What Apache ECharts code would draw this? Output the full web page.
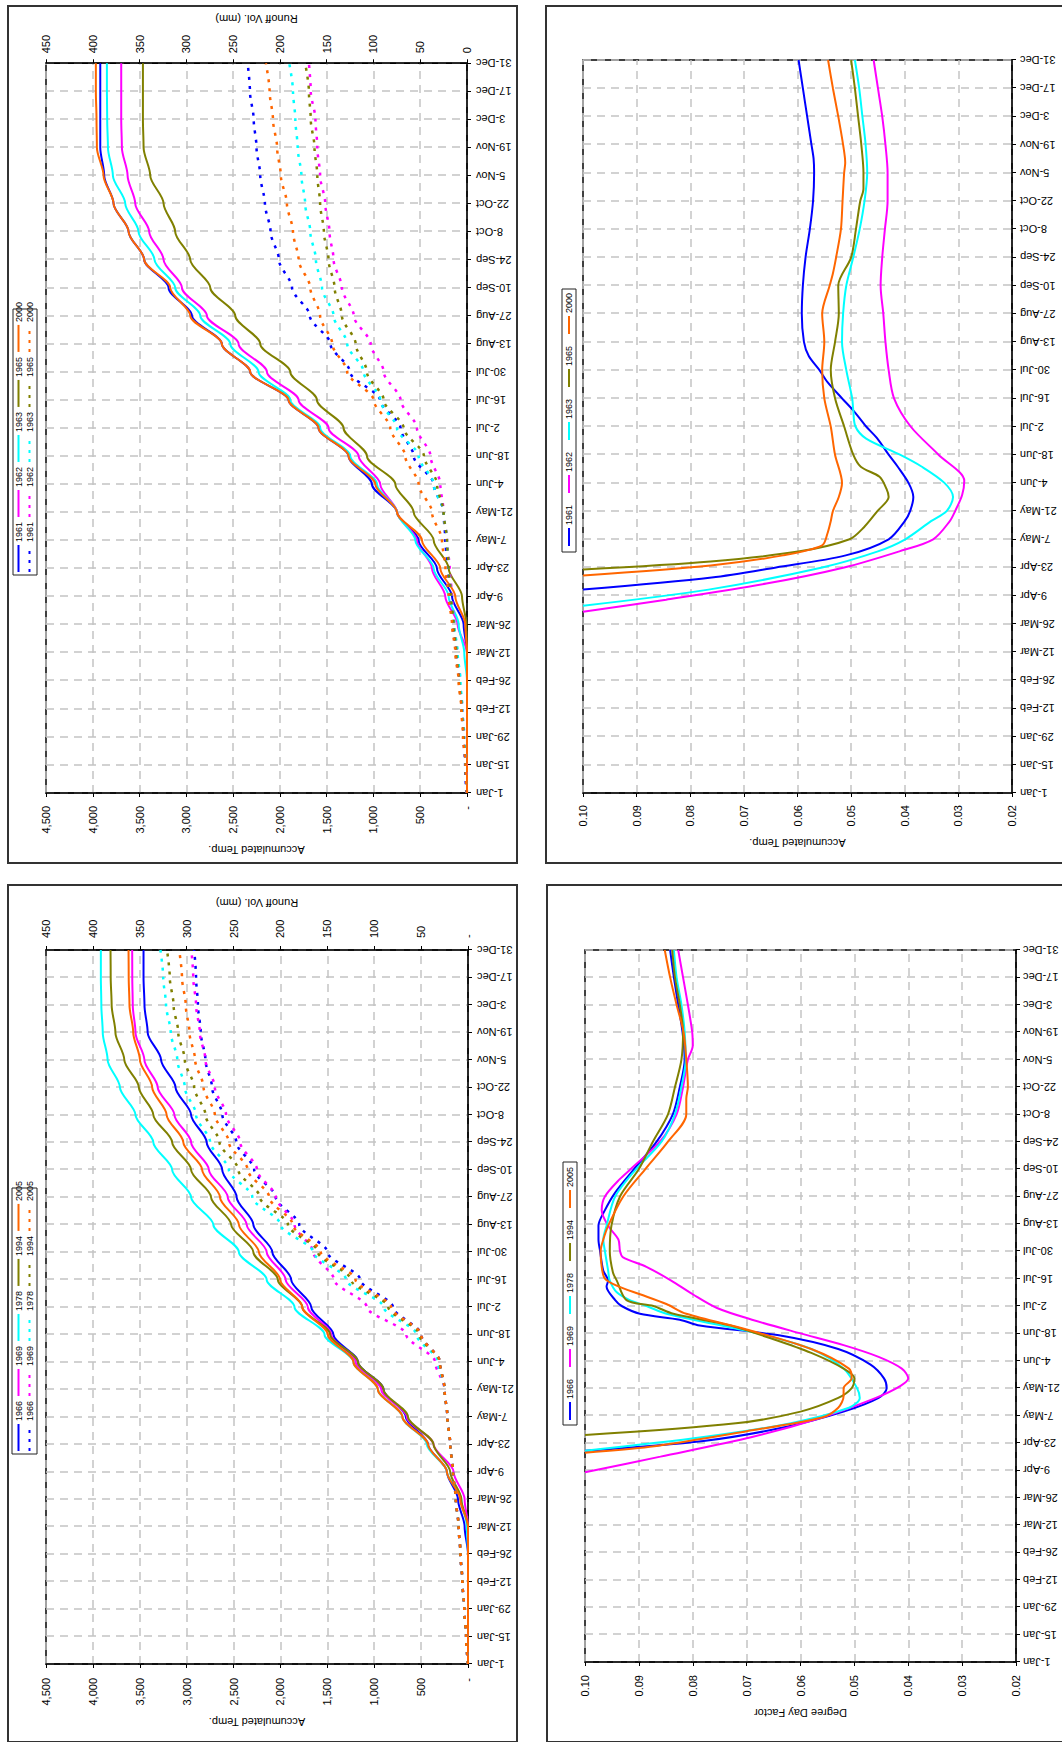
<!DOCTYPE html>
<html>
<head>
<meta charset="utf-8">
<title>Accumulated temperature, runoff and degree day factor</title>
<script src="https://cdn.jsdelivr.net/npm/echarts@6/dist/echarts.min.js"></script>
<style>
  html, body { margin: 0; padding: 0; background: #fff; }
  body { width: 1062px; height: 1742px; overflow: hidden; position: relative; }
  .panel { position: absolute; width: 859px; transform-origin: 0 0; transform: rotate(-90deg); }
</style>
</head>
<body>
<div id="accA" class="panel" style="left:7px; top:864px; height:511px;"></div>
<div id="ddfA" class="panel" style="left:545px; top:864px; height:530px;"></div>
<div id="accB" class="panel" style="left:7px; top:1743px; height:511px;"></div>
<div id="ddfB" class="panel" style="left:546px; top:1743px; height:530px;"></div>
<script>
// ---- day-of-year sample points (0 = 1 Jan, 364 = 31 Dec) ----
const DAYS = [0, 14, 28, 42, 56, 70, 84, 98, 112, 126, 140, 154, 168, 182, 196, 210, 224, 238, 252, 266, 280, 294, 308, 322, 336, 350, 364];

// ---- years and colours ----
const YEARS_A = ['1961', '1962', '1963', '1965', '2000'];
const YEARS_B = ['1966', '1969', '1978', '1994', '2005'];
const COLORS = ['#0000ff', '#ff00ff', '#00ffff', '#808000', '#ff6600'];

// ---- accumulated temperature (solid) 1961-2000 ----
const temp1961 = [0, 0, 0, 0, 0, 0, 36, 160, 321, 517, 748, 1016, 1265, 1586, 1907, 2317, 2620, 2940, 3190, 3450, 3617, 3778, 3878, 3920, 3920, 3920, 3920];
const temp1962 = [0, 0, 0, 0, 0, 0, 100, 232, 374, 535, 748, 927, 1158, 1479, 1800, 2138, 2441, 2780, 3047, 3243, 3397, 3546, 3628, 3689, 3696, 3696, 3696];
const temp1963 = [0, 0, 0, 0, 0, 29, 89, 196, 356, 552, 748, 962, 1247, 1568, 1889, 2228, 2530, 2851, 3119, 3340, 3511, 3653, 3785, 3838, 3846, 3849, 3849];
const temp1965 = [0, 0, 0, 0, 0, 0, 7, 53, 196, 356, 570, 766, 1069, 1319, 1604, 1889, 2210, 2477, 2744, 2958, 3119, 3243, 3386, 3457, 3464, 3464, 3464];
const temp2000 = [0, 0, 0, 0, 0, 0, 18, 125, 285, 481, 748, 980, 1265, 1586, 1907, 2317, 2620, 2958, 3172, 3450, 3617, 3778, 3885, 3956, 3960, 3967, 3967];

// ---- runoff volume (dotted, mm) 1961-2000 ----
const runoff1961 = [0.7, 2, 3.6, 5.3, 7.8, 11.4, 15, 17.8, 20.3, 23.2, 25, 35.6, 57, 71, 93, 125, 146, 168, 187, 201, 210, 216, 221, 225, 228, 232, 234.5];
const runoff1962 = [0, 1, 2.9, 5, 7.8, 10.7, 13.5, 16, 18.5, 21.4, 25, 28.5, 39, 53.5, 71, 89, 103, 121, 133.7, 142.6, 147, 151.5, 157, 160, 162, 167, 169];
const runoff1963 = [0, 1.4, 2.9, 5, 7, 10, 13.5, 17, 19.6, 21.4, 25, 35.6, 51.7, 74.8, 92.7, 110.5, 128, 142.6, 155, 161.5, 167.5, 173, 177, 181, 183.5, 186, 190];
const runoff1965 = [0, 1.4, 3.6, 5.7, 8.5, 11.4, 14.3, 17, 19.6, 21.4, 25, 32, 46, 67.7, 89, 107, 119, 133.7, 141.5, 148, 153, 157, 160, 163, 167, 169, 173];
const runoff2000 = [0, 1.4, 4.3, 6, 9, 12.5, 16, 19.6, 23, 26.7, 37.4, 51.7, 66, 82, 99.8, 128, 144, 157, 167.5, 180, 186, 192.5, 199, 203, 207.4, 211, 215];

// ---- accumulated temperature (solid) 1966-2005 ----
const temp1966 = [0, 0, 0, 0, 0, 36, 107, 225, 427, 664, 901, 1174, 1435, 1672, 1886, 2087, 2289, 2467, 2621, 2787, 2953, 3119, 3273, 3416, 3450, 3460, 3460];
const temp1969 = [0, 0, 0, 0, 0, 0, 36, 154, 368, 652, 925, 1198, 1459, 1708, 1945, 2147, 2360, 2562, 2763, 2953, 3131, 3309, 3451, 3546, 3575, 3580, 3581];
const temp1978 = [0, 0, 0, 0, 0, 12, 71, 225, 439, 700, 960, 1222, 1530, 1850, 2147, 2443, 2716, 2953, 3155, 3356, 3546, 3712, 3843, 3895, 3910, 3915, 3915];
const temp1994 = [0, 0, 0, 0, 0, 0, 71, 190, 368, 640, 901, 1174, 1470, 1767, 2028, 2289, 2526, 2740, 2953, 3155, 3356, 3510, 3665, 3760, 3800, 3810, 3812];
const temp2005 = [0, 0, 0, 0, 0, 0, 83, 225, 427, 700, 961, 1222, 1494, 1767, 2004, 2230, 2443, 2645, 2835, 3036, 3214, 3368, 3499, 3570, 3610, 3618, 3620];

// ---- runoff volume (dotted, mm) 1966-2005 ----
const runoff1966 = [0, 2, 4, 6, 8, 10, 13, 16, 19, 22, 25, 30, 50, 80, 115, 150, 180, 205, 228, 247, 262, 273, 280, 285, 288, 290, 292];
const runoff1969 = [0, 2, 4, 6, 8, 10, 13, 16, 19, 22, 25, 35, 66, 108, 143, 165, 185, 205, 225, 243, 258, 270, 280, 286, 290, 293, 295];
const runoff1978 = [0, 2, 4, 6, 8, 10, 13, 16, 19, 22, 25, 32, 55, 90, 130, 165, 200, 230, 255, 275, 290, 302, 310, 317, 322, 325, 328];
const runoff1994 = [0, 2, 4, 6, 8, 10, 13, 16, 19, 22, 25, 30, 52, 85, 125, 160, 192, 222, 245, 265, 280, 292, 302, 309, 314, 318, 321];
const runoff2005 = [0, 2, 4, 6, 8, 10, 13, 16, 19, 22, 25, 30, 50, 82, 120, 157, 187, 212, 235, 255, 270, 282, 291, 297, 301, 305, 308];

// ---- degree day factor 1961-2000 (day of year, factor) ----
const ddfDays1961 = [101, 107, 112, 118, 126, 135, 140, 147, 154, 162, 168, 176, 182, 190, 196, 204, 210, 217, 224, 238, 252, 266, 280, 294, 308, 315, 322, 336, 350, 364];
const ddf1961 = [0.100, 0.076, 0.064, 0.051, 0.043, 0.040, 0.039, 0.0384, 0.0393, 0.0413, 0.043, 0.0451, 0.0472, 0.0496, 0.0517, 0.0544, 0.0559, 0.0579, 0.0588, 0.0592, 0.0590, 0.0585, 0.0577, 0.0571, 0.0569, 0.0570, 0.0574, 0.0582, 0.0590, 0.0598];
const ddfDays1962 = [90, 96, 104, 112, 120, 126, 135, 140, 148, 155, 168, 182, 196, 210, 224, 238, 252, 266, 280, 294, 308, 322, 336, 350, 364];
const ddf1962 = [0.100, 0.0845, 0.0658, 0.0513, 0.041, 0.0347, 0.0316, 0.0306, 0.0293, 0.0289, 0.0337, 0.0389, 0.042, 0.043, 0.0436, 0.044, 0.0445, 0.0442, 0.0437, 0.0432, 0.0432, 0.0436, 0.0442, 0.045, 0.0458];
const ddfDays1963 = [93, 101, 112, 120, 126, 135, 140, 147, 154, 162, 168, 176, 182, 190, 196, 210, 224, 238, 252, 266, 280, 294, 308, 322, 336, 350, 364];
const ddf1963 = [0.100, 0.0766, 0.0554, 0.045, 0.0399, 0.0351, 0.0322, 0.031, 0.0326, 0.0368, 0.0409, 0.0472, 0.0492, 0.0496, 0.0498, 0.0509, 0.0517, 0.0515, 0.0509, 0.0496, 0.0484, 0.0475, 0.0470, 0.0473, 0.0479, 0.0485, 0.0493];
const ddfDays1965 = [111, 115, 120, 126, 132, 140, 147, 151, 157, 162, 168, 182, 196, 210, 224, 238, 252, 266, 280, 294, 300, 308, 322, 336, 350, 364];
const ddf1965 = [0.100, 0.0762, 0.0596, 0.0503, 0.0476, 0.0451, 0.043, 0.0434, 0.0447, 0.0482, 0.0496, 0.0513, 0.053, 0.0538, 0.053, 0.0523, 0.0524, 0.0500, 0.0491, 0.0483, 0.0477, 0.0477, 0.0481, 0.0487, 0.0493, 0.0500];
const ddfDays2000 = [108, 113, 118, 123, 129, 135, 140, 147, 154, 168, 182, 196, 210, 224, 238, 252, 258, 266, 280, 294, 308, 313, 322, 336, 350, 364];
const ddf2000 = [0.100, 0.0762, 0.0627, 0.0554, 0.0544, 0.0538, 0.0534, 0.0523, 0.0517, 0.053, 0.0538, 0.055, 0.0554, 0.055, 0.0554, 0.0540, 0.0534, 0.0528, 0.0519, 0.0516, 0.0513, 0.0511, 0.0515, 0.0524, 0.0534, 0.0543];

// ---- degree day factor 1966-2005 ----
const ddfDays1966 = [108, 113, 120, 128, 135, 140, 145, 152, 160, 167, 172, 175, 178, 182, 185, 192, 195, 200, 210, 216, 223, 231, 240, 252, 266, 280, 294, 308, 322, 336, 350, 364];
const ddf1966 = [0.100, 0.078, 0.063, 0.052, 0.0455, 0.044, 0.0445, 0.047, 0.053, 0.064, 0.0787, 0.0824, 0.0898, 0.0932, 0.0944, 0.096, 0.0957, 0.0966, 0.0972, 0.0975, 0.0975, 0.0963, 0.0944, 0.0909, 0.0867, 0.0837, 0.0824, 0.0815, 0.0819, 0.0827, 0.0835, 0.0842];
const ddfDays1969 = [97, 105, 115, 125, 135, 141, 145, 150, 156, 162, 168, 175, 181, 188, 195, 202, 207, 210, 216, 223, 231, 238, 247, 252, 266, 280, 294, 308, 315, 322, 336, 350, 364];
const ddf1969 = [0.100, 0.086, 0.069, 0.056, 0.046, 0.0415, 0.0400, 0.0412, 0.0455, 0.052, 0.060, 0.069, 0.0755, 0.080, 0.084, 0.0886, 0.093, 0.0935, 0.0938, 0.0957, 0.0969, 0.0963, 0.0935, 0.0915, 0.0861, 0.083, 0.0818, 0.0809, 0.0800, 0.0801, 0.0809, 0.0818, 0.0827];
const ddfDays1978 = [108, 115, 122, 130, 135, 140, 150, 160, 168, 175, 178, 182, 185, 189, 195, 200, 210, 216, 223, 238, 252, 266, 280, 294, 308, 322, 336, 350, 364];
const ddf1978 = [0.100, 0.078, 0.062, 0.051, 0.049, 0.0495, 0.052, 0.058, 0.068, 0.0799, 0.0849, 0.0886, 0.0917, 0.0941, 0.0954, 0.0957, 0.0963, 0.0966, 0.096, 0.0944, 0.0905, 0.0858, 0.0833, 0.0821, 0.0813, 0.0815, 0.0821, 0.083, 0.0835];
const ddfDays1994 = [116, 122, 128, 135, 140, 145, 150, 158, 165, 172, 178, 182, 185, 195, 199, 210, 223, 238, 252, 266, 280, 294, 308, 322, 336, 350, 364];
const ddf1994 = [0.100, 0.072, 0.060, 0.053, 0.0505, 0.050, 0.052, 0.058, 0.065, 0.073, 0.0836, 0.0873, 0.0923, 0.0941, 0.0948, 0.0954, 0.0951, 0.0935, 0.090, 0.0874, 0.0846, 0.0833, 0.0821, 0.0818, 0.0824, 0.0833, 0.0838];
const ddfDays2005 = [107, 110, 118, 125, 130, 136, 140, 145, 150, 160, 170, 178, 183, 188, 192, 196, 202, 210, 216, 223, 238, 252, 266, 280, 288, 294, 308, 322, 336, 350, 364];
const ddf2005 = [0.100, 0.088, 0.070, 0.056, 0.053, 0.052, 0.052, 0.0505, 0.051, 0.058, 0.070, 0.0812, 0.0849, 0.0898, 0.0938, 0.0963, 0.0969, 0.0971, 0.0966, 0.0957, 0.0929, 0.0888, 0.0846, 0.0812, 0.0812, 0.0809, 0.0812, 0.0817, 0.083, 0.0842, 0.0852];

// ---- shared formatting ----
const FONT = '"Liberation Sans", Arial, Helvetica, sans-serif';
const MONTHS = ['Jan', 'Feb', 'Mar', 'Apr', 'May', 'Jun', 'Jul', 'Aug', 'Sep', 'Oct', 'Nov', 'Dec'];
const GRID_LINE = { type: [8, 6], color: '#c4c4c4', width: 1.5 };
const W = 859;

function dayLabel(d) {
  const dt = new Date(Date.UTC(2001, 0, 1 + Math.round(d)));
  return dt.getUTCDate() + '-' + MONTHS[dt.getUTCMonth()];
}
function withThousands(v) {
  if (v === 0) return '-';
  return String(Math.round(v)).replace(/\B(?=(\d{3})+(?!\d))/g, ',');
}
function pairs(xs, ys) { return xs.map((x, i) => [x, ys[i]]); }

function dateAxis(margin) {
  return {
    type: 'value', min: 0, max: 364, interval: 14,
    axisLine: { show: true, onZero: false, lineStyle: { color: '#000', width: 1.5 } },
    axisTick: { show: true, length: 4, lineStyle: { color: '#000', width: 1 } },
    axisLabel: { rotate: 90, margin: margin, fontSize: 11, color: '#000', fontFamily: FONT, formatter: dayLabel },
    splitLine: { show: true, lineStyle: GRID_LINE }
  };
}

function frameGraphic(h, box) {
  return [
    { type: 'rect', silent: true, z: -10, shape: { x: 1, y: 1, width: W - 2, height: h - 2 },
      style: { fill: 'none', stroke: '#333', lineWidth: 2 } },
    { type: 'rect', silent: true, z: -5, shape: { x: box[0], y: box[1], width: box[2], height: box[3] },
      style: { fill: '#fff', stroke: '#222', lineWidth: 1 } }
  ];
}

// one legend row: plain line icons (no marker), text after the line
function legendRow(names, left, top, itemWidth, itemGap, strip) {
  const lg = {
    data: names, left: left, top: top, orient: 'horizontal', padding: 0,
    itemWidth: itemWidth, itemHeight: 8, itemGap: itemGap, selectedMode: false,
    itemStyle: { opacity: 0 },
    textStyle: { fontSize: 9, color: '#000', fontFamily: FONT, padding: [0, 0, 0, -2] }
  };
  if (strip) lg.formatter = n => n.split(' ')[0];
  return lg;
}

// Accumulated temperature (left axis) with runoff volume (right axis)
function accumOption(p) {
  const series = [];
  p.years.forEach((y, i) => {
    series.push({
      name: y, type: 'line', yAxisIndex: 0, data: pairs(DAYS, p.temp[i]),
      symbol: 'none', smooth: 0.3, smoothMonotone: 'x',
      lineStyle: { color: COLORS[i], width: 2 }, itemStyle: { color: COLORS[i] }
    });
  });
  p.years.forEach((y, i) => {
    series.push({
      name: y + ' runoff', type: 'line', yAxisIndex: 1, data: pairs(DAYS, p.runoff[i]),
      symbol: 'none', smooth: 0.3, smoothMonotone: 'x',
      lineStyle: { color: COLORS[i], width: 2.5, type: [3, 6] }, itemStyle: { color: COLORS[i] }
    });
  });
  return {
    animation: false,
    textStyle: { fontFamily: FONT },
    grid: { left: p.grid[0], right: p.grid[1], top: p.grid[2], bottom: p.grid[3],
            show: true, borderColor: '#000', borderWidth: 1.5, backgroundColor: 'transparent' },
    xAxis: dateAxis(p.dateMargin),
    yAxis: [
      { type: 'value', min: 0, max: 4500, interval: 500, position: 'left',
        name: 'Accumulated Temp.', nameLocation: 'middle', nameGap: p.tempGap, nameRotate: 90,
        nameTextStyle: { fontSize: 11, color: '#000', fontFamily: FONT },
        axisLine: { show: true, lineStyle: { color: '#000', width: 1.5 } },
        axisTick: { show: true, length: 4, lineStyle: { color: '#000' } },
        axisLabel: { margin: p.tempMargin, fontSize: 11, color: '#000', formatter: withThousands },
        splitLine: { show: true, lineStyle: GRID_LINE } },
      { type: 'value', min: 0, max: 450, interval: 50, position: 'right',
        name: 'Runoff Vol. (mm)', nameLocation: 'middle', nameGap: p.runGap, nameRotate: 90,
        nameTextStyle: { fontSize: 11, color: '#000', fontFamily: FONT },
        axisLine: { show: true, lineStyle: { color: '#000', width: 1.5 } },
        axisTick: { show: true, length: 4, lineStyle: { color: '#000' } },
        axisLabel: { margin: p.runMargin, fontSize: 11, color: '#000',
                     formatter: v => (v === 0 ? p.runZero : String(v)) },
        splitLine: { show: false } }
    ],
    legend: [
      legendRow(p.years, p.legendLeft, 7, 27, 4, false),
      legendRow(p.years.map(y => y + ' runoff'), p.legendLeft, 18, 27, 4, true)
    ],
    graphic: frameGraphic(p.h, p.box),
    series: series
  };
}

// Degree day factor through the year
function ddfOption(p) {
  const series = p.years.map((y, i) => ({
    name: y, type: 'line', data: pairs(p.days[i], p.vals[i]),
    symbol: 'none', smooth: 0.3, clip: true,
    lineStyle: { color: COLORS[i], width: 2 }, itemStyle: { color: COLORS[i] }
  }));
  return {
    animation: false,
    textStyle: { fontFamily: FONT },
    grid: { left: p.grid[0], right: p.grid[1], top: p.grid[2], bottom: p.grid[3],
            show: true, borderColor: '#000', borderWidth: 1.5, backgroundColor: 'transparent' },
    xAxis: dateAxis(p.dateMargin),
    yAxis: { type: 'value', min: 0.02, max: 0.10, interval: 0.01,
      name: p.yName, nameLocation: 'middle', nameGap: p.nameGap, nameRotate: 90,
      nameTextStyle: { fontSize: 11, color: '#000', fontFamily: FONT },
      axisLine: { show: true, lineStyle: { color: '#000', width: 1.5 } },
      axisTick: { show: true, length: 4, lineStyle: { color: '#000' } },
      axisLabel: { margin: p.labelMargin, fontSize: 11, color: '#000', formatter: v => v.toFixed(2) },
      splitLine: { show: true, lineStyle: GRID_LINE } },
    legend: legendRow(p.years, p.legendLeft, p.legendTop, 18, 11, false),
    graphic: frameGraphic(p.h, p.box),
    series: series
  };
}

function draw(id, option) {
  const chart = echarts.init(document.getElementById(id), null, { renderer: 'svg' });
  chart.setOption(option);
}

draw('accA', accumOption({
  h: 511, years: YEARS_A,
  temp: [temp1961, temp1962, temp1963, temp1965, temp2000],
  runoff: [runoff1961, runoff1962, runoff1963, runoff1965, runoff2000],
  grid: [71, 55, 39, 51], dateMargin: 9, tempGap: 48, tempMargin: 13, runGap: 37, runMargin: 10,
  runZero: '0', legendLeft: 291, box: [289, 6, 266, 24]
}));

draw('ddfA', ddfOption({
  h: 530, years: YEARS_A, yName: 'Accumulated Temp.',
  days: [ddfDays1961, ddfDays1962, ddfDays1963, ddfDays1965, ddfDays2000],
  vals: [ddf1961, ddf1962, ddf1963, ddf1965, ddf2000],
  grid: [71, 55, 38, 63], dateMargin: 8, nameGap: 39, labelMargin: 12,
  legendLeft: 317, legendTop: 19.5, box: [312, 17, 263, 14]
}));

draw('accB', accumOption({
  h: 511, years: YEARS_B,
  temp: [temp1966, temp1969, temp1978, temp1994, temp2005],
  runoff: [runoff1966, runoff1969, runoff1978, runoff1994, runoff2005],
  grid: [79, 66, 39, 50], dateMargin: 9, tempGap: 49, tempMargin: 14, runGap: 39, runMargin: 12,
  runZero: '-', legendLeft: 291, box: [289, 5, 266, 25]
}));

draw('ddfB', ddfOption({
  h: 530, years: YEARS_B, yName: 'Degree Day Factor',
  days: [ddfDays1966, ddfDays1969, ddfDays1978, ddfDays1994, ddfDays2005],
  vals: [ddf1966, ddf1969, ddf1978, ddf1994, ddf2005],
  grid: [81, 66, 39, 60], dateMargin: 7, nameGap: 40, labelMargin: 13,
  legendLeft: 322, legendTop: 19.5, box: [318, 17, 263, 14]
}));
</script>
</body>
</html>
